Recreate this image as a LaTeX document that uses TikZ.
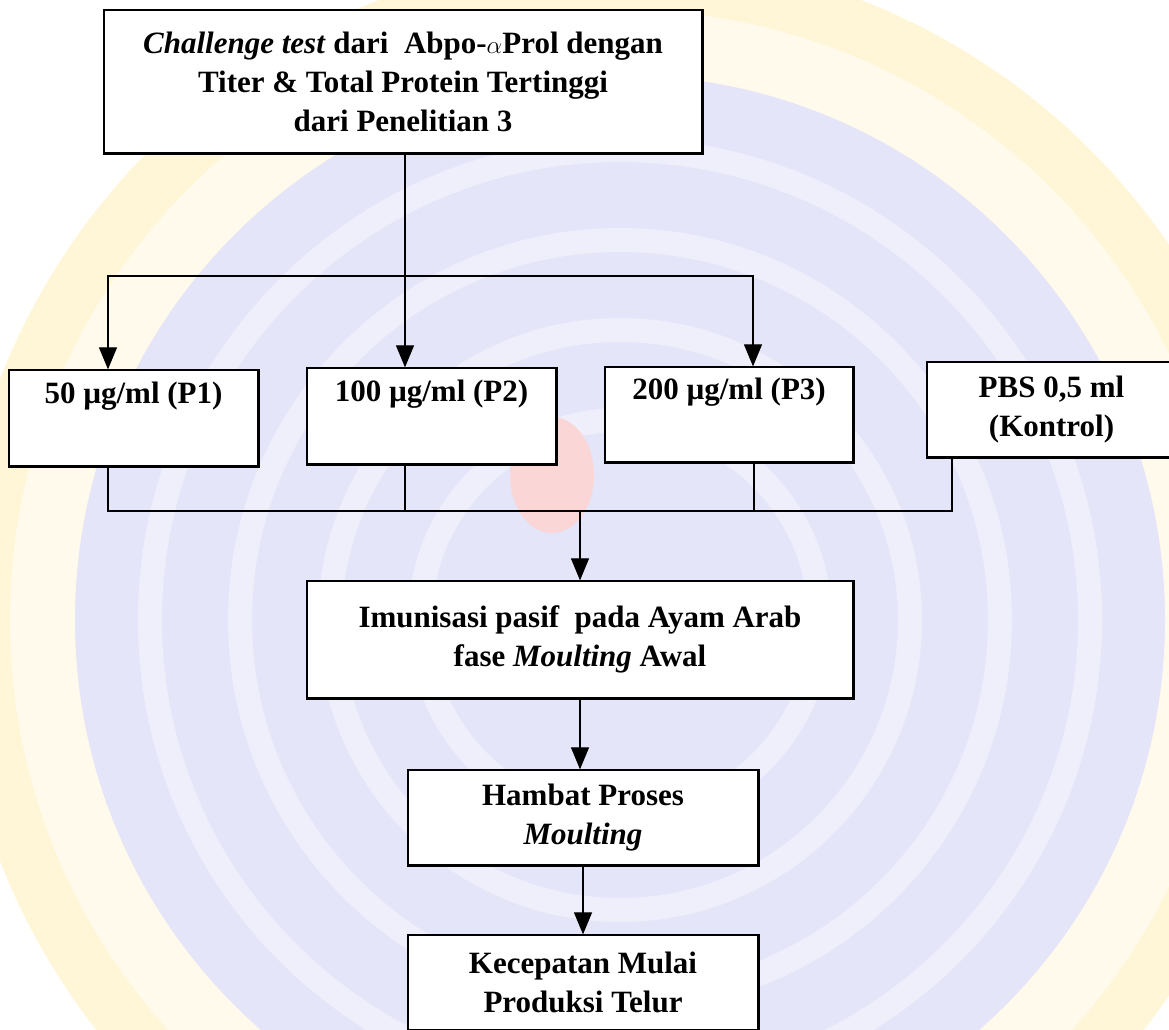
\documentclass[tikz,border=0pt]{standalone}
\usepackage{fontspec}
\setmainfont{Liberation Serif}
\usetikzlibrary{arrows.meta,calc}

\definecolor{wmyellow}{HTML}{FFF6D8}
\definecolor{wmblue}{HTML}{E4E5F8}
\definecolor{wmpink}{HTML}{FAD6D6}

\tikzset{
  box/.style={draw=black, line width=1.3pt, fill=white, align=center,
    inner sep=0pt, font=\bfseries\fontsize{31}{39}\selectfont},
  link/.style={draw=black, line width=1.2pt},
  flow/.style={link, -{Triangle[length=22pt,width=18pt]}},
  heavy/.style={draw=black, line width=2.6pt},
}

\begin{document}
\begin{tikzpicture}[x=1pt,y=-1pt]
\useasboundingbox (0,0) rectangle (1169,1029);
\clip (0,0) rectangle (1169,1029);

% faint emblem behind the chart
\fill[wmyellow] (620,620) circle (665);
\fill[white, opacity=0.5] (620,620) circle (610);
\fill[wmblue] (620,620) circle (545);
\foreach \r in {470,380,290,200}
  \draw[white, line width=24pt, opacity=0.4] (620,620) circle (\r);
\fill[wmpink] (552,475) ellipse (42 and 58);

% boxes
\node[box, minimum width=598pt, minimum height=143pt] (top) at (403,81.5)
  {\textit{Challenge test} dari\ \ Abpo-$\alpha$Prol dengan\\
   Titer \& Total Protein Tertinggi\\ dari Penelitian 3};
\node[box, minimum width=249pt, minimum height=96pt] (p1) at (133.5,418)
  {50 µg/ml (P1)\\ \strut};
\node[box, minimum width=249pt, minimum height=96pt] (p2) at (431.5,416)
  {100 µg/ml (P2)\\ \strut};
\node[box, minimum width=248pt, minimum height=95pt] (p3) at (729,414.5)
  {200 µg/ml (P3)\\ \strut};
\node[box, minimum width=249pt, minimum height=95pt] (pbs) at (1051.5,409.5)
  {PBS 0,5 ml\\ (Kontrol)};
\node[box, minimum width=546pt, minimum height=117pt] (imun) at (580,639.5)
  {Imunisasi pasif\ \ pada Ayam Arab\\ fase \textit{Moulting} Awal};
\node[box, minimum width=350pt, minimum height=95pt] (hambat) at (583,817.5)
  {Hambat Proses\\ \textit{Moulting}};
\node[box, minimum width=350pt, minimum height=95pt] (kec) at (583,982.5)
  {Kecepatan Mulai\\ Produksi Telur};

% darker lower and right edges of every box
\foreach \b in {top,p1,p2,p3,pbs,imun,hambat,kec}
  \draw[heavy] (\b.south west) -- (\b.south east) -- (\b.north east);

% branch points
\coordinate (split) at (405,276);
\coordinate (lb) at (108,276);
\coordinate (rb) at (753,276);
\coordinate (m1) at (108,511);
\coordinate (m2) at (405,511);
\coordinate (m3) at (754,511);
\coordinate (m4) at (952,511);
\coordinate (merge) at (580,511);

% distribution to the doses
\draw[link] (top.south -| split) -- (split);
\draw[flow] (split) -- (p2.north -| split);
\draw[flow] (split) -- (lb) -- (p1.north -| lb);
\draw[flow] (split) -- (rb) -- (p3.north -| rb);

% collection of the groups
\draw[link] (p1.south -| m1) -- (m1) -- (m4) -- (pbs.south -| m4);
\draw[link] (p2.south -| m2) -- (m2);
\draw[link] (p3.south -| m3) -- (m3);
\draw[flow] (merge) -- (imun.north -| merge);

% sequence below
\draw[flow] (imun.south) -- (imun.south |- hambat.north);
\draw[flow] (hambat.south) -- (kec.north);
\end{tikzpicture}
\end{document}
